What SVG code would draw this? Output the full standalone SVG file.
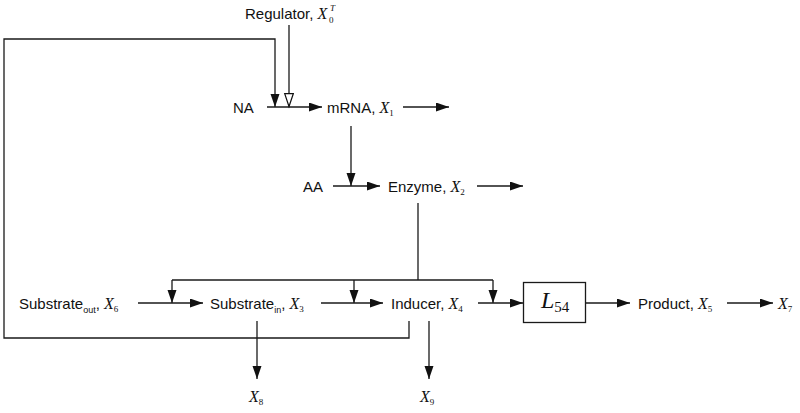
<svg xmlns="http://www.w3.org/2000/svg" width="800" height="413" viewBox="0 0 800 413">
<defs>
<style>
.ln{fill:none;stroke:#1a1a1a;stroke-width:1.3}
.t{font-family:"Liberation Sans",Arial,sans-serif;font-size:15px;fill:#111}
.v{font-family:"Liberation Serif","Times New Roman",serif;font-style:italic;font-size:16px}
.s{font-size:9px}
.sv{font-family:"Liberation Serif","Times New Roman",serif;font-style:normal;font-size:9px}
</style>
<marker id="a" markerUnits="userSpaceOnUse" markerWidth="14" markerHeight="10" refX="13" refY="4.5" orient="auto">
<path d="M0,0 L13,4.5 L0,9 z" fill="#111"/>
</marker>
<marker id="h" markerUnits="userSpaceOnUse" markerWidth="16" markerHeight="12" refX="14" refY="5" orient="auto">
<path d="M0.7,0.7 L13.5,5 L0.7,9.3 z" fill="#fff" stroke="#111" stroke-width="1.2"/>
</marker>
</defs>
<rect width="800" height="413" fill="#fff"/>
<g id="connectors">
<path class="ln" d="M409,321 V338 H4 V39 H275 V107" marker-end="url(#a)"/>
<path class="ln" d="M289,25 V107" marker-end="url(#h)"/>
<path class="ln" d="M267,107 H322" marker-end="url(#a)"/>
<path class="ln" d="M403,107 H449" marker-end="url(#a)"/>
<path class="ln" d="M351,126 V186" marker-end="url(#a)"/>
<path class="ln" d="M333,186 H380" marker-end="url(#a)"/>
<path class="ln" d="M477,186 H523" marker-end="url(#a)"/>
<path class="ln" d="M418,203 V280"/>
<path class="ln" d="M172,280 H493"/>
<path class="ln" d="M172,280 V303" marker-end="url(#a)"/>
<path class="ln" d="M354,280 V303" marker-end="url(#a)"/>
<path class="ln" d="M493,280 V303" marker-end="url(#a)"/>
<path class="ln" d="M138,303 H203" marker-end="url(#a)"/>
<path class="ln" d="M321,303 H383" marker-end="url(#a)"/>
<path class="ln" d="M478,303 H523" marker-end="url(#a)"/>
<path class="ln" d="M586,303 H630" marker-end="url(#a)"/>
<path class="ln" d="M727,303 H773" marker-end="url(#a)"/>
<path class="ln" d="M257,321 V379" marker-end="url(#a)"/>
<path class="ln" d="M429,321 V379" marker-end="url(#a)"/>
</g>
<g id="regulator"><text class="t" x="245" y="19">Regulator, <tspan class="v">X</tspan></text><text class="t sv" x="330" y="11" font-style="italic" style="font-style:italic">T</text><text class="t sv" x="329" y="23">0</text></g>
<g id="na"><text class="t" x="233" y="113">NA</text></g>
<g id="mrna"><text class="t" x="327" y="113">mRNA, <tspan class="v">X</tspan><tspan class="sv" dy="3">1</tspan></text></g>
<g id="aa"><text class="t" x="303" y="192">AA</text></g>
<g id="enzyme"><text class="t" x="388" y="192">Enzyme, <tspan class="v">X</tspan><tspan class="sv" dy="3">2</tspan></text></g>
<g id="substrate-out"><text class="t" x="19" y="309">Substrate<tspan class="s" dy="4">out</tspan><tspan dy="-4">, </tspan><tspan class="v">X</tspan><tspan class="sv" dy="3">6</tspan></text></g>
<g id="substrate-in"><text class="t" x="210" y="309">Substrate<tspan class="s" dy="4">in</tspan><tspan dy="-4">, </tspan><tspan class="v">X</tspan><tspan class="sv" dy="3">3</tspan></text></g>
<g id="inducer"><text class="t" x="391" y="309">Inducer, <tspan class="v">X</tspan><tspan class="sv" dy="3">4</tspan></text></g>
<g id="l54"><rect x="523.5" y="282.5" width="62" height="40" fill="#fff" stroke="#1a1a1a" stroke-width="1.3"/><text x="541" y="308" font-family="Liberation Serif, Times New Roman, serif" font-size="24" font-style="italic" fill="#111">L<tspan font-style="normal" font-size="15" dy="4">54</tspan></text></g>
<g id="product"><text class="t" x="638" y="309">Product, <tspan class="v">X</tspan><tspan class="sv" dy="3">5</tspan></text></g>
<g id="x7"><text class="t" x="778" y="309"><tspan class="v">X</tspan><tspan class="sv" dy="3">7</tspan></text></g>
<g id="x8"><text class="t" x="249" y="402"><tspan class="v">X</tspan><tspan class="sv" dy="3">8</tspan></text></g>
<g id="x9"><text class="t" x="420" y="402"><tspan class="v">X</tspan><tspan class="sv" dy="3">9</tspan></text></g>
</svg>
